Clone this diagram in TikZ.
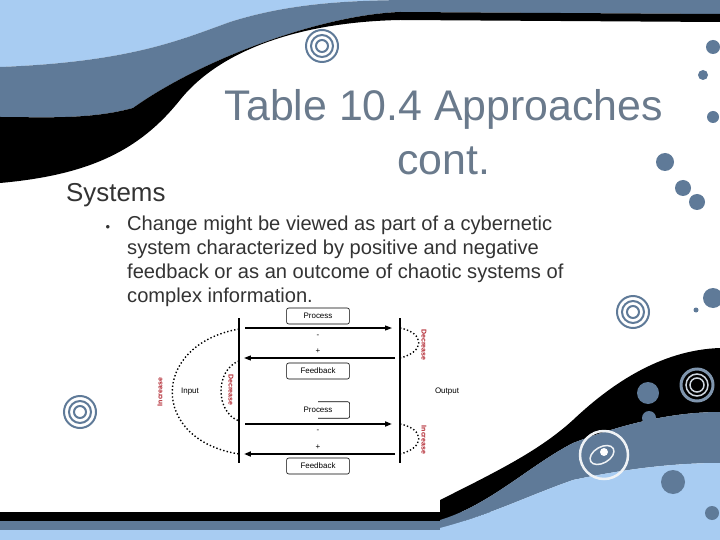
\documentclass[tikz,border=0pt]{standalone}
\usepackage{fontspec}
\setmainfont{Liberation Sans}
\usetikzlibrary{arrows.meta}
\definecolor{lblue}{HTML}{A8CCF2}
\definecolor{sblue}{HTML}{5F7A98}
\definecolor{ttl}{HTML}{6A7A8C}
\definecolor{txt}{HTML}{333333}
\definecolor{dred}{HTML}{B0202A}
\tikzset{
  dotline/.style={line width=1.4pt, dash pattern=on 1.4pt off 2.2pt},
  flow/.style={line width=1.1pt, -{Triangle[length=7pt,width=5pt]}},
  bar/.style={line width=2.2pt},
  lbl/.style={font=\fontsize{8}{9}\selectfont, inner sep=0pt},
  boxlbl/.style={draw, line width=0.6pt, rounded corners=2pt, minimum width=63pt, minimum height=16pt, font=\fontsize{8}{9}\selectfont},
  rlbl/.style={font=\fontsize{7}{8}\selectfont\bfseries, text=dred, inner sep=0pt},
  ring/.style={draw=sblue, line width=2pt},
  dot/.style={fill=sblue},
}
\begin{document}
\begin{tikzpicture}[x=1bp,y=-1bp]
\useasboundingbox (0,0) rectangle (720,540);
\fill[white] (0,0) rectangle (720,540);
% top swoosh
\fill[lblue] (0,0) -- (0,67) .. controls (130,62) and (180,40) .. (230,22) .. controls (290,3) and (350,0) .. (420,0) -- cycle;
\fill[sblue] (0,67) .. controls (130,62) and (180,40) .. (230,22) .. controls (290,3) and (350,0) .. (420,0) -- (720,0) -- (720,14)
  -- (400,12) .. controls (320,15) and (200,60) .. (133,108) .. controls (90,120) and (40,117) .. (0,117) -- cycle;
\fill[black] (0,117) .. controls (40,117) and (90,120) .. (133,108) .. controls (200,60) and (320,15) .. (400,12) -- (720,14) -- (720,22)
   -- (400,20) .. controls (300,22) and (220,50) .. (180,100) .. controls (140,150) and (90,175) .. (0,183) -- cycle;
% bottom strips
\fill[black] (0,512) rectangle (720,521);
\fill[sblue] (0,521) rectangle (720,530);
\fill[lblue] (0,530) rectangle (720,540);
% bottom right swoosh
\fill[black] (440,500) .. controls (500,470) and (540,450) .. (573,420) .. controls (610,385) and (660,350) .. (720,348)
  -- (720,412) .. controls (670,412) and (620,425) .. (573,443) .. controls (530,465) and (490,505) .. (440,520) -- cycle;
\fill[sblue] (440,520) .. controls (490,505) and (530,465) .. (573,443) .. controls (620,425) and (670,412) .. (720,412)
  -- (720,463) .. controls (670,463) and (620,470) .. (573,480) .. controls (530,495) and (490,515) .. (440,528) -- cycle;
\fill[lblue] (440,528) .. controls (490,515) and (530,495) .. (573,480) .. controls (620,470) and (670,463) .. (720,463)
  -- (720,540) -- (440,540) -- cycle;
% decorations
\foreach \r in {16,11,6} \draw[ring] (322,46) circle (\r);
\foreach \r in {16,11,6} \draw[ring] (80,412) circle (\r);
\foreach \r in {16,11,6} \draw[ring] (633,312) circle (\r);
\draw[sblue!80, line width=3pt] (697,385) circle (16);
\foreach \r in {11,7} \draw[white!70!sblue, line width=1.5pt] (697,385) circle (\r);
\draw[white!90!sblue, line width=2.5pt] (604,455) circle (24);
\draw[white!90!sblue, line width=1.5pt, rotate around={30:(602,455)}] (602,455) ellipse (13 and 8);
\fill[white] (604,452) circle (4);
\fill[dot] (713,47) circle (7);
\fill[dot] (703,75) circle (5);
\fill[dot] (713,117) circle (6);
\fill[dot] (665,162) circle (9);
\fill[dot] (683,188) circle (8);
\fill[dot] (697,202) circle (8);
\fill[dot] (713,298) circle (10);
\fill[dot] (696,310) circle (2.5);
\fill[dot] (648,393) circle (11);
\fill[dot] (649,418) circle (7);
\fill[dot] (673,482) circle (12);
\fill[dot] (712,513) circle (7);
% text
\node[text=ttl, font=\fontsize{43}{54}\selectfont, align=center] (title) at (444,132) {Table 10.4 Approaches\\cont.};
\node[text=txt, font=\fontsize{26}{28}\selectfont, anchor=west, inner sep=0pt] (sys) at (66,195) {Systems};
\node[text=txt, font=\fontsize{13}{13}\selectfont, inner sep=0pt] (bul) at (108,228) {•};
\node[text=txt, font=\fontsize{20.2}{24}\selectfont, anchor=north west, align=left, inner sep=0pt] (body) at (127,216)
 {Change might be viewed as part of a cybernetic\\system characterized by positive and negative\\feedback or as an outcome of chaotic systems of\\complex information.};
% diagram
\coordinate (L1) at (239,318); \coordinate (L2) at (239,463);
\coordinate (R1) at (400,318); \coordinate (R2) at (400,463);
\draw[bar] (L1) -- (L2);
\draw[bar] (R1) -- (R2);
\coordinate (a1s) at (245,328); \coordinate (a1e) at (392,328);
\coordinate (a2s) at (395,358); \coordinate (a2e) at (244,358);
\coordinate (a3s) at (245,424); \coordinate (a3e) at (392,424);
\coordinate (a4s) at (395,454); \coordinate (a4e) at (244,454);
\draw[flow] (a1s) -- (a1e);
\draw[flow] (a2s) -- (a2e);
\draw[flow, line width=1.8pt] (a3s) -- (a3e);
\draw[flow, line width=1.8pt] (a4s) -- (a4e);
\node[boxlbl, fill=white] (p1) at (318,316) {Process};
\node[boxlbl] (f1) at (318,371) {Feedback};
\node[boxlbl, draw=none] (p2) at (318,410) {Process};
\draw[line width=0.6pt, rounded corners=2pt] (p2.north) -- (p2.north east) -- (p2.south east) -- (p2.south);
\node[boxlbl] (f2) at (318,466) {Feedback};
\node[lbl] (m1) at (318,336) {-};
\node[lbl] (pl1) at (318,351) {+};
\node[lbl] (m2) at (318,431) {-};
\node[lbl] (pl2) at (318,447) {+};
\node[lbl] (inp) at (190,392) {Input};
\node[lbl] (outp) at (447,392) {Output};
% loops
\draw[dotline] (239,329) .. controls (150,345) and (150,440) .. (239,454);
\draw[dotline] (239,361) .. controls (215,370) and (215,412) .. (239,421);
\draw[dotline] (400,328) .. controls (425,333) and (425,352) .. (400,358);
\draw[dotline] (400,424) .. controls (425,429) and (425,448) .. (400,454);
\node[rlbl, rotate=90] (inc1) at (160,392) {Increase};
\node[rlbl, rotate=-90] (dec1) at (231,390) {Decrease};
\node[rlbl, rotate=-90] (dec2) at (424,345) {Decrease};
\node[rlbl, rotate=-90] (inc2) at (424,440) {Increase};
\end{tikzpicture}
\end{document}
